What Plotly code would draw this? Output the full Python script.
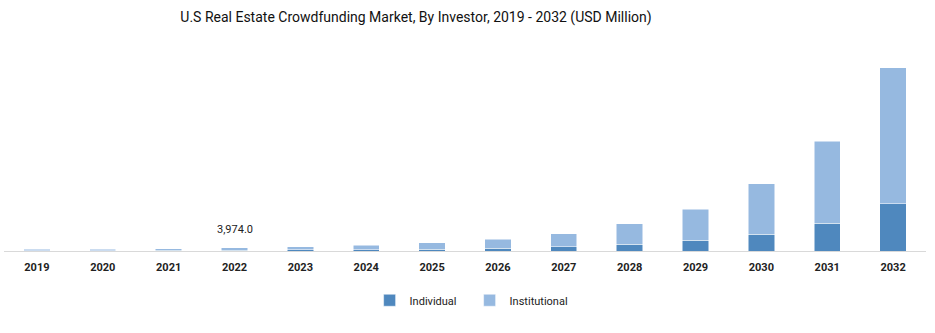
import plotly.graph_objects as go

years = ["2019", "2020", "2021", "2022", "2023", "2024", "2025", "2026", "2027",
         "2028", "2029", "2030", "2031", "2032"]
total = [1900, 2200, 3000, 3974, 5200, 7200, 9700, 14000, 20800,
         32800, 50400, 80800, 131600, 220000]
individual = [470, 540, 730, 960, 1250, 1700, 2400, 3600, 5000,
              8400, 12800, 20000, 33600, 56800]
institutional = [t - i for t, i in zip(total, individual)]

label_year = "2022"
label_text = "3,974.0"

FONT = "Roboto, Arial, sans-serif"

fig = go.Figure()
fig.add_trace(go.Bar(x=years, y=individual, name="Individual",
                     marker=dict(color="#4f88be", line=dict(color="white", width=0.5))))
fig.add_trace(go.Bar(x=years, y=institutional, name="Institutional",
                     marker=dict(color="#96b9e0", line=dict(color="white", width=0.5))))

idx = years.index(label_year)
fig.add_annotation(x=idx, y=total[idx], text=label_text,
                   showarrow=False, yshift=18, font=dict(family=FONT, size=11, color="#222"))

fig.update_layout(
    barmode="stack",
    bargap=0.6,
    width=935, height=333,
    margin=dict(l=4, r=9, t=50, b=82),
    paper_bgcolor="white", plot_bgcolor="white",
    title=dict(text="U.S Real Estate Crowdfunding Market, By Investor, 2019 - 2032 (USD Million)",
               x=416 / 935, xanchor="center", y=1 - 17 / 333, yanchor="middle",
               font=dict(family=FONT, size=14, color="#111")),
    legend=dict(orientation="h", x=0.505, xanchor="center", y=-0.245, yanchor="middle",
                font=dict(family=FONT, size=11, color="#222"),
                traceorder="normal", itemwidth=30, entrywidth=55),
    showlegend=True,
    font=dict(family=FONT),
)
fig.update_xaxes(type="category", range=[-0.5, len(years) - 0.5],
                 showline=True, linecolor="#d9d9d9", linewidth=1, ticks="",
                 ticklabelstandoff=6,
                 tickfont=dict(family=FONT, size=11, color="#222", weight="bold"))
fig.update_yaxes(visible=False, range=[0, 241250], showgrid=False)

fig.write_html("out.html")
